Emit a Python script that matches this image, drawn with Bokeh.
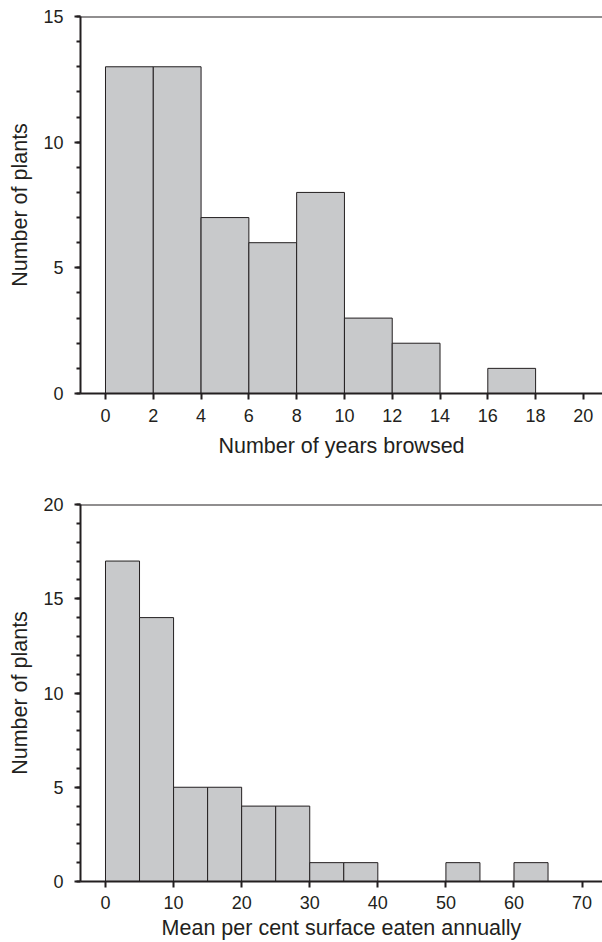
from bokeh.plotting import figure
from bokeh.layouts import column
from bokeh.models import Range1d, FixedTicker, SingleIntervalTicker, Span
from bokeh.embed import file_html
from bokeh.resources import INLINE

# Top histogram: number of years browsed (bin width 2)
years_edges = [0, 2, 4, 6, 8, 10, 12, 14, 16, 18, 20]
years_counts = [13, 13, 7, 6, 8, 3, 2, 0, 1, 0]
years_ticks = [0, 2, 4, 6, 8, 10, 12, 14, 16, 18, 20]

# Bottom histogram: mean per cent surface eaten annually (bin width 5)
eaten_edges = [0, 5, 10, 15, 20, 25, 30, 35, 40, 45, 50, 55, 60, 65, 70]
eaten_counts = [17, 14, 5, 5, 4, 4, 1, 1, 0, 0, 1, 0, 1, 0]
eaten_ticks = [0, 10, 20, 30, 40, 50, 60, 70]

FILL = "#c8c9cb"
INK = "#231f20"
FONT = "Liberation Sans"


def style(p, xticks, ymax, xlabel, x_label_standoff, x_axis_label_standoff):
    p.outline_line_color = None
    p.xgrid.visible = False
    p.ygrid.visible = False
    p.background_fill_color = "white"
    p.border_fill_color = "white"
    for ax in (p.xaxis[0], p.yaxis[0]):
        ax.axis_line_color = INK
        ax.axis_line_width = 2
        ax.major_tick_line_color = INK
        ax.major_tick_line_width = 2
        ax.major_tick_out = 6
        ax.major_tick_in = 0
        ax.major_label_text_font = FONT
        ax.major_label_text_font_size = "18px"
        ax.major_label_text_color = INK
        ax.axis_label_text_font = FONT
        ax.axis_label_text_font_size = "21.5px"
        ax.axis_label_text_font_style = "normal"
        ax.axis_label_text_color = INK
    p.xaxis[0].ticker = FixedTicker(ticks=xticks)
    p.xaxis[0].minor_tick_line_color = None
    p.xaxis[0].major_label_standoff = x_label_standoff
    p.xaxis[0].axis_label_standoff = x_axis_label_standoff
    p.xaxis[0].axis_label = xlabel
    p.yaxis[0].ticker = SingleIntervalTicker(interval=5, num_minor_ticks=5)
    p.yaxis[0].minor_tick_line_color = INK
    p.yaxis[0].minor_tick_line_width = 2
    p.yaxis[0].minor_tick_out = 4
    p.yaxis[0].minor_tick_in = 0
    p.yaxis[0].major_label_standoff = 11
    p.yaxis[0].axis_label_standoff = 8
    p.yaxis[0].axis_label = "Number of plants"
    p.add_layout(Span(location=ymax, dimension="width", line_color=INK, line_width=2))


p1 = figure(width=602, height=470, output_backend="svg", toolbar_location=None,
            x_range=Range1d(-1.046, 20.8), y_range=Range1d(0, 15),
            min_border_left=80, min_border_right=0, min_border_top=16, min_border_bottom=77)
p1.quad(left=years_edges[:-1], right=years_edges[1:], bottom=0, top=years_counts,
        fill_color=FILL, line_color=INK, line_width=1)
style(p1, years_ticks, 15, "Number of years browsed", 9, 9)

p2 = figure(width=602, height=472, output_backend="svg", toolbar_location=None,
            x_range=Range1d(-3.67, 73.0), y_range=Range1d(0, 20),
            min_border_left=80, min_border_right=0, min_border_top=34, min_border_bottom=60)
p2.quad(left=eaten_edges[:-1], right=eaten_edges[1:], bottom=0, top=eaten_counts,
        fill_color=FILL, line_color=INK, line_width=1)
style(p2, eaten_ticks, 20, "Mean per cent surface eaten annually", 8, 4)

layout = column(p1, p2, spacing=0)
open("out.html", "w").write(file_html(layout, INLINE))
